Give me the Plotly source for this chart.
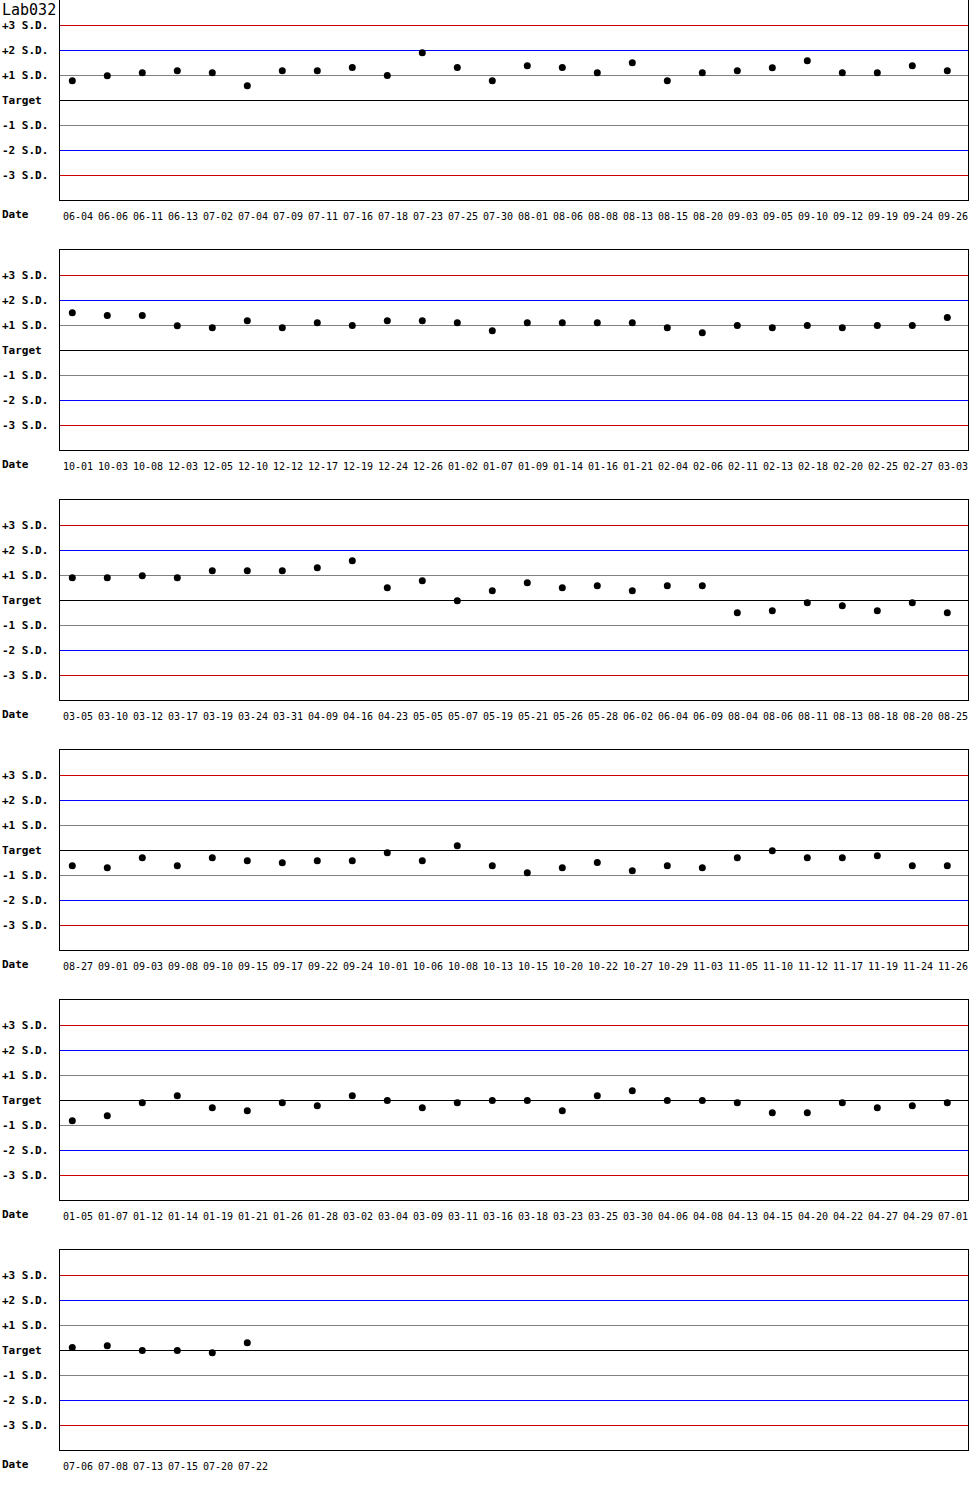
import plotly.graph_objects as go
from plotly.subplots import make_subplots

# Levey-Jennings chart, values in S.D. units from target
lab_name = "Lab032"

dates_1 = ["06-04", "06-06", "06-11", "06-13", "07-02", "07-04", "07-09", "07-11", "07-16",
           "07-18", "07-23", "07-25", "07-30", "08-01", "08-06", "08-08", "08-13", "08-15",
           "08-20", "09-03", "09-05", "09-10", "09-12", "09-19", "09-24", "09-26"]
values_1 = [0.79, 0.99, 1.11, 1.19, 1.11, 0.59, 1.19, 1.19, 1.32, 1.0, 1.91, 1.32, 0.79,
            1.39, 1.32, 1.11, 1.51, 0.79, 1.11, 1.19, 1.31, 1.59, 1.11, 1.11, 1.39, 1.19]

dates_2 = ["10-01", "10-03", "10-08", "12-03", "12-05", "12-10", "12-12", "12-17", "12-19",
           "12-24", "12-26", "01-02", "01-07", "01-09", "01-14", "01-16", "01-21", "02-04",
           "02-06", "02-11", "02-13", "02-18", "02-20", "02-25", "02-27", "03-03"]
values_2 = [1.51, 1.4, 1.4, 0.99, 0.91, 1.19, 0.91, 1.11, 1.0, 1.19, 1.19, 1.11, 0.79,
            1.11, 1.11, 1.11, 1.11, 0.91, 0.71, 1.0, 0.91, 1.0, 0.91, 1.0, 1.0, 1.32]

dates_3 = ["03-05", "03-10", "03-12", "03-17", "03-19", "03-24", "03-31", "04-09", "04-16",
           "04-23", "05-05", "05-07", "05-19", "05-21", "05-26", "05-28", "06-02", "06-04",
           "06-09", "08-04", "08-06", "08-11", "08-13", "08-18", "08-20", "08-25"]
values_3 = [0.91, 0.91, 0.99, 0.91, 1.19, 1.19, 1.19, 1.31, 1.59, 0.51, 0.79, -0.01, 0.39,
            0.71, 0.51, 0.59, 0.39, 0.59, 0.59, -0.49, -0.41, -0.09, -0.21, -0.41, -0.09, -0.49]

dates_4 = ["08-27", "09-01", "09-03", "09-08", "09-10", "09-15", "09-17", "09-22", "09-24",
           "10-01", "10-06", "10-08", "10-13", "10-15", "10-20", "10-22", "10-27", "10-29",
           "11-03", "11-05", "11-10", "11-12", "11-17", "11-19", "11-24", "11-26"]
values_4 = [-0.61, -0.69, -0.29, -0.61, -0.29, -0.41, -0.49, -0.41, -0.41, -0.09, -0.41, 0.19,
            -0.61, -0.89, -0.69, -0.48, -0.81, -0.61, -0.69, -0.29, -0.01, -0.29, -0.29, -0.21,
            -0.61, -0.61]

dates_5 = ["01-05", "01-07", "01-12", "01-14", "01-19", "01-21", "01-26", "01-28", "03-02",
           "03-04", "03-09", "03-11", "03-16", "03-18", "03-23", "03-25", "03-30", "04-06",
           "04-08", "04-13", "04-15", "04-20", "04-22", "04-27", "04-29", "07-01"]
values_5 = [-0.81, -0.61, -0.09, 0.19, -0.29, -0.41, -0.09, -0.21, 0.19, 0.0, -0.29, -0.09, 0.0,
            0.0, -0.41, 0.19, 0.39, 0.0, 0.0, -0.09, -0.49, -0.49, -0.09, -0.29, -0.21, -0.09]

dates_6 = ["07-06", "07-08", "07-13", "07-15", "07-20", "07-22"]
values_6 = [0.12, 0.19, 0.0, 0.0, -0.09, 0.31]

sd_levels = [3, 2, 1, 0, -1, -2, -3]
sd_labels = ["+3 S.D.", "+2 S.D.", "+1 S.D.", "Target", "-1 S.D.", "-2 S.D.", "-3 S.D."]
level_colors = ["#cc0000", "#0000ff", "#808080", "#000000", "#808080", "#0000ff", "#cc0000"]

panels = [(dates_1, values_1), (dates_2, values_2), (dates_3, values_3),
          (dates_4, values_4), (dates_5, values_5), (dates_6, values_6)]

FONT = "DejaVu Sans Mono"
slots = 26

fig = make_subplots(rows=len(panels), cols=1, vertical_spacing=50 / 1450)

for r, (dates, vals) in enumerate(panels, start=1):
    xs = list(range(len(vals)))
    fig.add_trace(go.Scatter(x=xs, y=vals, mode="markers",
                             marker=dict(color="black", size=7),
                             showlegend=False, hoverinfo="x+y"),
                  row=r, col=1)
    for lvl, col in zip(sd_levels, level_colors):
        fig.add_hline(y=lvl, line_color=col, line_width=1, layer="below", row=r, col=1)

    xref = "x" if r == 1 else f"x{r}"
    yref = "y" if r == 1 else f"y{r}"
    for lvl, lab in zip(sd_levels, sd_labels):
        fig.add_annotation(text=f"<b>{lab}</b>", xref="paper", x=0, xshift=-60,
                           xanchor="left", yref=yref, y=lvl, yanchor="middle",
                           showarrow=False, font=dict(family=FONT, size=11, color="black"))
    fig.add_annotation(text="<b>Date</b>", xref="paper", x=0, xshift=-60, xanchor="left",
                       yref=f"{yref} domain", y=0, yshift=-14.5, yanchor="middle",
                       showarrow=False, font=dict(family=FONT, size=11, color="black"))
    for i, d in enumerate(dates):
        fig.add_annotation(text=d, xref=xref, x=i, xshift=-11, xanchor="left",
                           yref=f"{yref} domain", y=0, yshift=-16.5, yanchor="middle",
                           showarrow=False, font=dict(family=FONT, size=10, color="black"))

fig.add_annotation(text=lab_name, xref="paper", x=0, xshift=-60, xanchor="left",
                   yref="paper", y=1, yshift=1, yanchor="top", showarrow=False,
                   font=dict(family=FONT, size=15, color="black"))

# half-pixel offset on y keeps the 1px reference lines crisp
fig.update_xaxes(range=[-0.351, slots - 0.409], showticklabels=False, showgrid=False,
                 zeroline=False, showline=True, mirror=True, linecolor="black",
                 linewidth=1, ticks="")
fig.update_yaxes(range=[-3.98, 4.02], showticklabels=False, showgrid=False, zeroline=False,
                 showline=True, mirror=True, linecolor="black", linewidth=1, ticks="")

fig.update_layout(width=970, height=1500, margin=dict(l=60, r=2, t=0, b=50),
                  plot_bgcolor="white", paper_bgcolor="white", showlegend=False)

fig.write_html("out.html", config={"displayModeBar": False},
               post_script="document.body.style.margin='0px';")
